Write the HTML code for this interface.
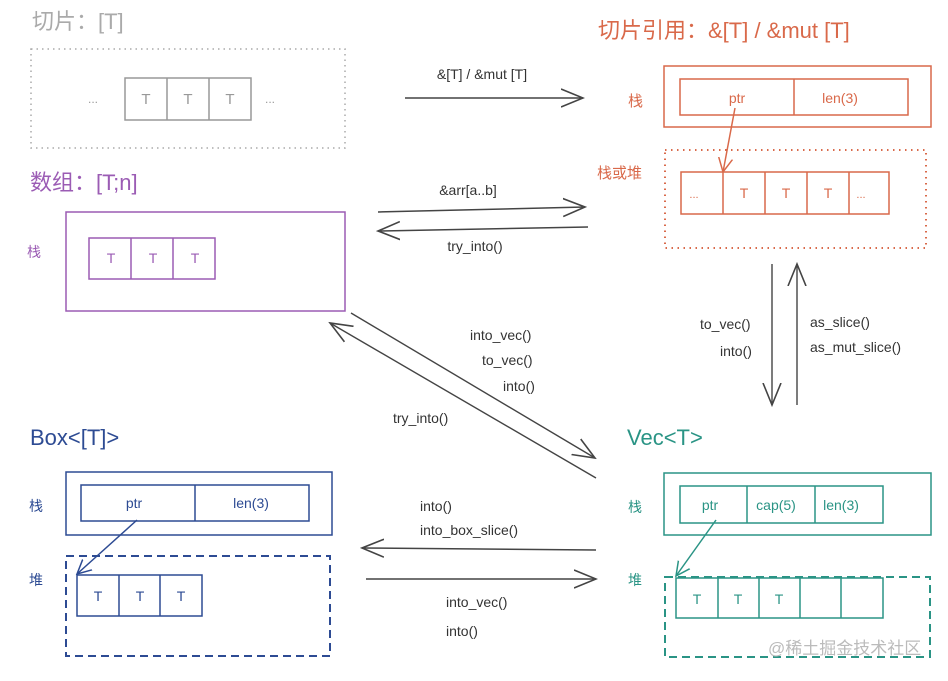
<!DOCTYPE html>
<html><head><meta charset="utf-8"><style>
body{margin:0;background:#fff}
text{font-family:"Liberation Sans","Noto Sans CJK SC",sans-serif}
</style></head><body>
<svg width="948" height="676" viewBox="0 0 948 676" xmlns="http://www.w3.org/2000/svg">
<defs>
<marker id="ag" markerWidth="24" markerHeight="20" refX="22" refY="10" orient="auto" markerUnits="userSpaceOnUse"><path d="M0,1 L22,10 L0,19" fill="none" stroke="#444" stroke-width="1.6"/></marker>
<marker id="ao" markerWidth="16" markerHeight="16" refX="14" refY="8" orient="auto" markerUnits="userSpaceOnUse"><path d="M0,1 L14,8 L0,15" fill="none" stroke="#d9694a" stroke-width="1.5"/></marker>
<marker id="ab" markerWidth="16" markerHeight="16" refX="14" refY="8" orient="auto" markerUnits="userSpaceOnUse"><path d="M0,1 L14,8 L0,15" fill="none" stroke="#2d4b93" stroke-width="1.5"/></marker>
<marker id="at" markerWidth="16" markerHeight="16" refX="14" refY="8" orient="auto" markerUnits="userSpaceOnUse"><path d="M0,1 L14,8 L0,15" fill="none" stroke="#2a9485" stroke-width="1.5"/></marker>
</defs>

<text x="32" y="29" font-size="22" fill="#aaa">切片：[T]</text>
<rect x="31" y="49" width="314" height="99" fill="none" stroke="#aaa" stroke-width="1.5" stroke-dasharray="1.5,4"/>
<g fill="none" stroke="#999" stroke-width="1.5"><rect x="125" y="78" width="126" height="42"/><line x1="167" y1="78" x2="167" y2="120"/><line x1="209" y1="78" x2="209" y2="120"/></g>
<g font-size="15" fill="#999" text-anchor="middle"><text x="146" y="104">T</text><text x="188" y="104">T</text><text x="230" y="104">T</text><text x="93" y="103" font-size="12">...</text><text x="270" y="103" font-size="12">...</text></g>

<line x1="405" y1="98" x2="583" y2="98" stroke="#444" stroke-width="1.5" marker-end="url(#ag)"/>
<text x="482" y="79" font-size="14" fill="#333" text-anchor="middle">&amp;[T] / &amp;mut [T]</text>

<text x="598" y="38" font-size="22" fill="#d9694a">切片引用：&amp;[T] / &amp;mut [T]</text>
<text x="628" y="106" font-size="15" fill="#d9694a">栈</text>
<text x="597" y="178" font-size="15" fill="#d9694a">栈或堆</text>
<g fill="none" stroke="#d9694a" stroke-width="1.5">
<rect x="664" y="66" width="267" height="61"/><rect x="680" y="79" width="228" height="36"/><line x1="794" y1="79" x2="794" y2="115"/>
<rect x="665" y="150" width="261" height="98" stroke-dasharray="1.5,4.5" stroke-width="2"/>
<rect x="681" y="172" width="208" height="42"/><line x1="723" y1="172" x2="723" y2="214"/><line x1="765" y1="172" x2="765" y2="214"/><line x1="807" y1="172" x2="807" y2="214"/><line x1="849" y1="172" x2="849" y2="214"/>
<line x1="735" y1="108" x2="723" y2="172" marker-end="url(#ao)"/>
</g>
<g font-size="14" fill="#d9694a" text-anchor="middle"><text x="737" y="103">ptr</text><text x="840" y="103">len(3)</text>
<text x="744" y="198">T</text><text x="786" y="198">T</text><text x="828" y="198">T</text><text x="694" y="198" font-size="11">...</text><text x="861" y="198" font-size="11">...</text></g>

<text x="30" y="190" font-size="22" fill="#9b5cb4">数组：[T;n]</text>
<text x="27" y="257" font-size="14" fill="#9b5cb4">栈</text>
<g fill="none" stroke="#9b5cb4" stroke-width="1.5"><rect x="66" y="212" width="279" height="99"/><rect x="89" y="238" width="126" height="41"/><line x1="131" y1="238" x2="131" y2="279"/><line x1="173" y1="238" x2="173" y2="279"/></g>
<g font-size="14" fill="#9b5cb4" text-anchor="middle"><text x="111" y="263">T</text><text x="153" y="263">T</text><text x="195" y="263">T</text></g>

<line x1="378" y1="212" x2="585" y2="207" stroke="#444" stroke-width="1.5" marker-end="url(#ag)"/>
<text x="468" y="195" font-size="14" fill="#333" text-anchor="middle">&amp;arr[a..b]</text>
<line x1="588" y1="227" x2="378" y2="231" stroke="#444" stroke-width="1.5" marker-end="url(#ag)"/>
<text x="475" y="251" font-size="14" fill="#333" text-anchor="middle">try_into()</text>

<line x1="351" y1="313" x2="595" y2="458" stroke="#444" stroke-width="1.4" marker-end="url(#ag)"/>
<line x1="596" y1="478" x2="330" y2="323" stroke="#444" stroke-width="1.4" marker-end="url(#ag)"/>
<g font-size="14" fill="#333"><text x="470" y="340">into_vec()</text><text x="482" y="365">to_vec()</text><text x="503" y="391">into()</text><text x="393" y="423">try_into()</text></g>

<line x1="772" y1="264" x2="772" y2="405" stroke="#444" stroke-width="1.4" marker-end="url(#ag)"/>
<line x1="797" y1="405" x2="797" y2="264" stroke="#444" stroke-width="1.4" marker-end="url(#ag)"/>
<g font-size="14" fill="#333"><text x="700" y="329">to_vec()</text><text x="720" y="356">into()</text><text x="810" y="327">as_slice()</text><text x="810" y="352">as_mut_slice()</text></g>

<text x="30" y="445" font-size="22" fill="#2d4b93">Box&lt;[T]&gt;</text>
<text x="29" y="511" font-size="14" fill="#2d4b93">栈</text>
<text x="29" y="585" font-size="14" fill="#2d4b93">堆</text>
<g fill="none" stroke="#2d4b93" stroke-width="1.5">
<rect x="66" y="472" width="266" height="63"/><rect x="81" y="485" width="228" height="36"/><line x1="195" y1="485" x2="195" y2="521"/>
<rect x="66" y="556" width="264" height="100" stroke-dasharray="8,5" stroke-width="2"/>
<rect x="77" y="575" width="125" height="41"/><line x1="119" y1="575" x2="119" y2="616"/><line x1="160" y1="575" x2="160" y2="616"/>
<line x1="137" y1="520" x2="77" y2="574" marker-end="url(#ab)"/>
</g>
<g font-size="14" fill="#2d4b93" text-anchor="middle"><text x="134" y="508">ptr</text><text x="251" y="508">len(3)</text><text x="98" y="601">T</text><text x="140" y="601">T</text><text x="181" y="601">T</text></g>

<text x="627" y="445" font-size="22" fill="#2a9485">Vec&lt;T&gt;</text>
<text x="628" y="512" font-size="14" fill="#2a9485">栈</text>
<text x="628" y="585" font-size="14" fill="#2a9485">堆</text>
<g fill="none" stroke="#2a9485" stroke-width="1.5">
<rect x="664" y="473" width="267" height="62"/><rect x="680" y="486" width="203" height="37"/><line x1="747" y1="486" x2="747" y2="523"/><line x1="815" y1="486" x2="815" y2="523"/>
<rect x="665" y="577" width="265" height="80" stroke-dasharray="8,5" stroke-width="2"/>
<rect x="676" y="578" width="207" height="40"/><line x1="718" y1="578" x2="718" y2="618"/><line x1="759" y1="578" x2="759" y2="618"/><line x1="800" y1="578" x2="800" y2="618"/><line x1="841" y1="578" x2="841" y2="618"/>
<line x1="716" y1="520" x2="676" y2="576" marker-end="url(#at)"/>
</g>
<g font-size="14" fill="#2a9485" text-anchor="middle"><text x="710" y="510">ptr</text><text x="776" y="510">cap(5)</text><text x="841" y="510">len(3)</text><text x="697" y="604">T</text><text x="738" y="604">T</text><text x="779" y="604">T</text></g>

<line x1="596" y1="550" x2="362" y2="548" stroke="#444" stroke-width="1.5" marker-end="url(#ag)"/>
<line x1="366" y1="579" x2="596" y2="579" stroke="#444" stroke-width="1.5" marker-end="url(#ag)"/>
<g font-size="14" fill="#333"><text x="420" y="511">into()</text><text x="420" y="535">into_box_slice()</text><text x="446" y="607">into_vec()</text><text x="446" y="636">into()</text></g>

<text x="768" y="654" font-size="17" fill="#bbb">@稀土掘金技术社区</text>
</svg>
</body></html>
